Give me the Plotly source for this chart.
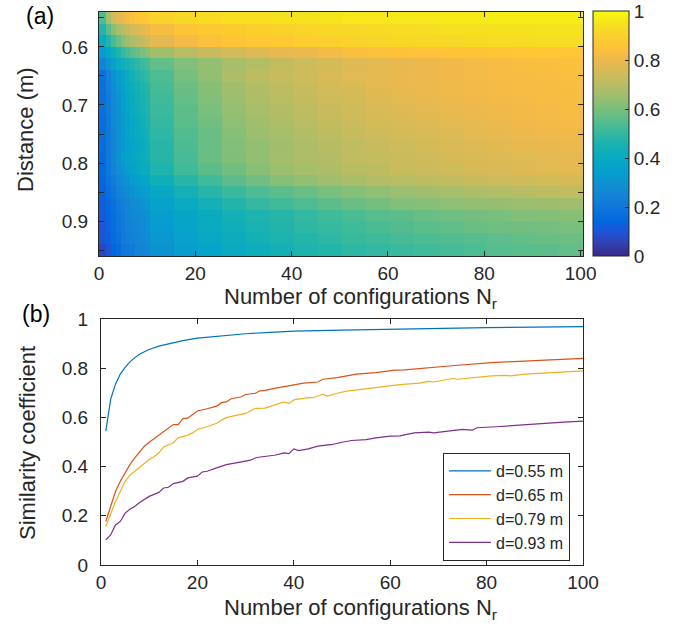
import plotly.graph_objects as go

# ---------------- DATA ----------------
# Panel (a): distance rows (m) and configuration-count columns
distances = [0.55, 0.57, 0.59, 0.61, 0.63, 0.65, 0.67, 0.69, 0.71, 0.73, 0.75,
             0.77, 0.79, 0.81, 0.83, 0.85, 0.87, 0.89, 0.91, 0.93, 0.95]
# columns: N = 1..10 individually, then groups of 5 (11-15, ..., 96-100)
col_lo = [1, 2, 3, 4, 5, 6, 7, 8, 9, 10, 11, 16, 21, 26, 31, 36, 41, 46, 51, 56,
          61, 66, 71, 76, 81, 86, 91, 96]
col_hi = [1, 2, 3, 4, 5, 6, 7, 8, 9, 10, 15, 20, 25, 30, 35, 40, 45, 50, 55, 60,
          65, 70, 75, 80, 85, 90, 95, 100]

r055 = [0.54, 0.67, 0.74, 0.78, 0.80, 0.83, 0.84, 0.86, 0.87, 0.88, 0.90, 0.92, 0.93, 0.94,
        0.94, 0.95, 0.95, 0.955, 0.96, 0.96, 0.96, 0.96, 0.965, 0.965, 0.97, 0.97, 0.97, 0.97]
r057 = [0.47, 0.56, 0.62, 0.67, 0.70, 0.73, 0.75, 0.77, 0.78, 0.80, 0.83, 0.86, 0.875, 0.885,
        0.895, 0.90, 0.91, 0.915, 0.92, 0.925, 0.93, 0.935, 0.94, 0.94, 0.945, 0.945, 0.95, 0.95]
r059 = [0.40, 0.47, 0.53, 0.58, 0.62, 0.65, 0.68, 0.70, 0.72, 0.74, 0.78, 0.82, 0.845, 0.86,
        0.87, 0.88, 0.89, 0.895, 0.90, 0.91, 0.915, 0.92, 0.92, 0.925, 0.93, 0.93, 0.935, 0.935]
r061 = [0.33, 0.38, 0.42, 0.46, 0.50, 0.53, 0.56, 0.58, 0.60, 0.62, 0.66, 0.70, 0.73, 0.75,
        0.77, 0.79, 0.80, 0.82, 0.84, 0.845, 0.85, 0.855, 0.86, 0.86, 0.865, 0.87, 0.87, 0.87]
r063 = [0.25, 0.31, 0.36, 0.40, 0.43, 0.45, 0.47, 0.49, 0.51, 0.53, 0.57, 0.61, 0.64, 0.67,
        0.69, 0.72, 0.74, 0.75, 0.77, 0.78, 0.79, 0.80, 0.81, 0.82, 0.83, 0.835, 0.84, 0.845]
r065 = [0.177, 0.238, 0.299, 0.340, 0.374, 0.408, 0.435, 0.460, 0.483, 0.499, 0.540, 0.597,
        0.640, 0.680, 0.708, 0.725, 0.741, 0.760, 0.776, 0.785, 0.793, 0.803, 0.810, 0.818,
        0.825, 0.829, 0.833, 0.838]
r067 = [0.18, 0.23, 0.28, 0.32, 0.36, 0.39, 0.42, 0.44, 0.46, 0.48, 0.53, 0.58, 0.62, 0.66,
        0.69, 0.71, 0.73, 0.75, 0.76, 0.78, 0.79, 0.80, 0.81, 0.815, 0.82, 0.825, 0.83, 0.835]
r069 = [0.17, 0.22, 0.27, 0.31, 0.35, 0.38, 0.41, 0.43, 0.45, 0.47, 0.52, 0.57, 0.61, 0.65,
        0.68, 0.70, 0.72, 0.74, 0.75, 0.77, 0.78, 0.79, 0.80, 0.81, 0.815, 0.82, 0.825, 0.83]
r071 = [0.17, 0.22, 0.26, 0.30, 0.34, 0.37, 0.40, 0.42, 0.44, 0.46, 0.51, 0.56, 0.60, 0.64,
        0.67, 0.69, 0.71, 0.73, 0.745, 0.76, 0.77, 0.78, 0.79, 0.80, 0.81, 0.815, 0.82, 0.825]
r073 = [0.16, 0.21, 0.26, 0.30, 0.33, 0.36, 0.39, 0.41, 0.43, 0.45, 0.50, 0.555, 0.59, 0.63,
        0.66, 0.68, 0.70, 0.72, 0.735, 0.75, 0.76, 0.77, 0.78, 0.79, 0.80, 0.81, 0.815, 0.82]
r075 = [0.16, 0.21, 0.25, 0.29, 0.33, 0.36, 0.38, 0.40, 0.42, 0.44, 0.49, 0.545, 0.58, 0.62,
        0.65, 0.67, 0.69, 0.71, 0.725, 0.74, 0.75, 0.76, 0.77, 0.78, 0.79, 0.80, 0.805, 0.81]
r077 = [0.16, 0.21, 0.25, 0.29, 0.32, 0.35, 0.37, 0.39, 0.41, 0.43, 0.48, 0.54, 0.575, 0.61,
        0.64, 0.66, 0.68, 0.70, 0.715, 0.73, 0.74, 0.75, 0.76, 0.77, 0.78, 0.79, 0.795, 0.80]
r079 = [0.156, 0.208, 0.258, 0.299, 0.340, 0.365, 0.381, 0.395, 0.410, 0.429, 0.480, 0.530,
        0.580, 0.608, 0.637, 0.663, 0.680, 0.690, 0.714, 0.721, 0.735, 0.745, 0.755, 0.764,
        0.771, 0.776, 0.781, 0.787]
r081 = [0.15, 0.20, 0.24, 0.28, 0.31, 0.34, 0.36, 0.38, 0.40, 0.41, 0.46, 0.52, 0.56, 0.59,
        0.62, 0.65, 0.67, 0.68, 0.70, 0.71, 0.725, 0.735, 0.745, 0.755, 0.76, 0.77, 0.775, 0.78]
r083 = [0.14, 0.185, 0.22, 0.26, 0.29, 0.31, 0.33, 0.35, 0.37, 0.38, 0.43, 0.48, 0.52, 0.56,
        0.59, 0.62, 0.64, 0.66, 0.675, 0.69, 0.70, 0.71, 0.72, 0.73, 0.74, 0.745, 0.75, 0.755]
r085 = [0.13, 0.17, 0.20, 0.23, 0.26, 0.28, 0.30, 0.32, 0.33, 0.35, 0.39, 0.44, 0.48, 0.51,
        0.54, 0.56, 0.58, 0.60, 0.62, 0.635, 0.65, 0.66, 0.67, 0.68, 0.69, 0.70, 0.71, 0.72]
r087 = [0.12, 0.15, 0.18, 0.21, 0.23, 0.25, 0.27, 0.29, 0.30, 0.32, 0.36, 0.40, 0.44, 0.47,
        0.50, 0.52, 0.54, 0.56, 0.58, 0.595, 0.61, 0.62, 0.63, 0.64, 0.645, 0.65, 0.655, 0.66]
r089 = [0.11, 0.14, 0.17, 0.20, 0.22, 0.24, 0.26, 0.27, 0.28, 0.30, 0.34, 0.38, 0.41, 0.44,
        0.46, 0.48, 0.50, 0.52, 0.535, 0.55, 0.56, 0.575, 0.585, 0.595, 0.60, 0.61, 0.615, 0.62]
r091 = [0.10, 0.13, 0.165, 0.19, 0.21, 0.23, 0.25, 0.26, 0.27, 0.29, 0.33, 0.37, 0.40, 0.43,
        0.45, 0.47, 0.49, 0.505, 0.52, 0.535, 0.545, 0.555, 0.565, 0.575, 0.585, 0.59, 0.595, 0.60]
r093 = [0.102, 0.122, 0.163, 0.177, 0.211, 0.227, 0.238, 0.254, 0.265, 0.279, 0.313, 0.354,
        0.390, 0.415, 0.439, 0.456, 0.472, 0.490, 0.506, 0.517, 0.530, 0.540, 0.545, 0.550,
        0.562, 0.569, 0.578, 0.583]
r095 = [0.07, 0.10, 0.14, 0.16, 0.19, 0.21, 0.22, 0.24, 0.25, 0.26, 0.30, 0.34, 0.37, 0.40,
        0.42, 0.44, 0.46, 0.475, 0.49, 0.50, 0.51, 0.52, 0.53, 0.54, 0.55, 0.555, 0.56, 0.57]

# Panel (b): similarity vs number of configurations for four distances
n_055 = [1, 2, 3, 4, 5, 6, 7, 8, 9, 10, 12, 14, 17, 20, 25, 30, 35, 40, 50, 60, 70, 80, 90, 100]
s_055 = [0.544, 0.673, 0.735, 0.776, 0.803, 0.826, 0.843, 0.857, 0.867, 0.876, 0.890, 0.900,
         0.912, 0.922, 0.932, 0.940, 0.946, 0.951, 0.955, 0.959, 0.962, 0.965, 0.967, 0.969]

n_065 = [1, 2, 3, 4, 5, 6, 7, 8, 9, 10, 11, 12, 13, 15, 16, 17, 18, 19, 20, 22, 24, 25, 26,
         27, 29, 30, 32, 33, 34, 36, 40, 42, 45, 46, 49, 53, 57, 61, 63, 66, 68, 74, 81, 86,
         88, 95, 100]
s_065 = [0.177, 0.238, 0.299, 0.340, 0.374, 0.408, 0.435, 0.460, 0.483, 0.499, 0.513, 0.527,
         0.540, 0.571, 0.571, 0.595, 0.597, 0.612, 0.626, 0.635, 0.646, 0.660, 0.663, 0.676,
         0.683, 0.693, 0.698, 0.708, 0.710, 0.718, 0.731, 0.739, 0.744, 0.755, 0.762, 0.776,
         0.782, 0.792, 0.793, 0.799, 0.803, 0.812, 0.823, 0.827, 0.829, 0.834, 0.840]

n_079 = [1, 2, 3, 4, 5, 6, 7, 8, 10, 11, 12, 13, 14, 15, 16, 18, 19, 20, 22, 24, 25, 26, 28,
         30, 31, 32, 34, 35, 36, 38, 39, 40, 43, 44, 46, 47, 49, 51, 54, 57, 60, 62, 66, 68,
         69, 71, 73, 74, 77, 81, 84, 85, 88, 92, 96, 100]
s_079 = [0.156, 0.208, 0.258, 0.299, 0.340, 0.365, 0.381, 0.395, 0.429, 0.440, 0.456, 0.480,
         0.490, 0.497, 0.517, 0.528, 0.537, 0.551, 0.562, 0.576, 0.589, 0.599, 0.608, 0.616,
         0.626, 0.637, 0.638, 0.644, 0.653, 0.663, 0.656, 0.671, 0.680, 0.680, 0.694, 0.687,
         0.698, 0.707, 0.714, 0.721, 0.728, 0.733, 0.739, 0.746, 0.744, 0.752, 0.758, 0.755,
         0.762, 0.769, 0.771, 0.769, 0.776, 0.780, 0.785, 0.789]

n_093 = [1, 2, 3, 4, 5, 6, 7, 8, 10, 11, 12, 13, 14, 15, 17, 18, 20, 21, 22, 24, 26, 28, 31,
         32, 33, 36, 38, 39, 40, 41, 43, 45, 48, 50, 52, 55, 57, 60, 62, 65, 68, 69, 72, 75,
         77, 78, 82, 84, 86, 89, 91, 92, 96, 100]
s_093 = [0.102, 0.122, 0.163, 0.177, 0.211, 0.227, 0.238, 0.254, 0.279, 0.286, 0.295, 0.313,
         0.316, 0.331, 0.340, 0.354, 0.361, 0.378, 0.381, 0.395, 0.408, 0.415, 0.426, 0.435,
         0.439, 0.446, 0.456, 0.453, 0.472, 0.465, 0.472, 0.483, 0.490, 0.499, 0.506, 0.510,
         0.517, 0.524, 0.525, 0.537, 0.540, 0.537, 0.544, 0.551, 0.548, 0.558, 0.562, 0.565,
         0.569, 0.571, 0.574, 0.578, 0.581, 0.585]

legend_names = ["d=0.55 m", "d=0.65 m", "d=0.79 m", "d=0.93 m"]
x_ticks = [0, 20, 40, 60, 80, 100]
cbar_ticks = [0, 0.2, 0.4, 0.6, 0.8, 1]

# ---------------- STYLE ----------------
W, H = 690, 636
TXT = "#262626"
FONT = "Liberation Sans, Arial, Helvetica, sans-serif"
line_colors = ["#0072BD", "#D95319", "#EDB120", "#7E2F8E"]

parula_pts = [
    (0.2081, 0.1663, 0.5292), (0.2081, 0.2386, 0.6771), (0.1253, 0.3242, 0.8303),
    (0.0060, 0.4086, 0.8828), (0.0498, 0.4586, 0.8641), (0.0779, 0.5040, 0.8384),
    (0.0641, 0.5570, 0.8240), (0.0265, 0.6137, 0.8135), (0.0228, 0.6535, 0.7768),
    (0.0590, 0.6838, 0.7254), (0.1453, 0.7098, 0.6646), (0.2586, 0.7317, 0.5954),
    (0.3953, 0.7459, 0.5244), (0.5300, 0.7491, 0.4661), (0.6473, 0.7456, 0.4188),
    (0.7525, 0.7384, 0.3768), (0.8507, 0.7299, 0.3360), (0.9450, 0.7261, 0.2886),
    (0.9990, 0.7653, 0.2164), (0.9789, 0.8271, 0.1633), (0.9589, 0.8949, 0.1132),
    (0.9763, 0.9831, 0.0538)]
idx = [0, 3, 6, 9, 12, 15, 18, 21, 24, 27, 30, 33, 36, 39, 42, 45, 48, 51, 54, 57, 60, 63]
parula = [[i / 63, "rgb(%d,%d,%d)" % (round(r * 255), round(g * 255), round(b * 255))]
          for i, (r, g, b) in zip(idx, parula_pts)]

rows = [r055, r057, r059, r061, r063, r065, r067, r069, r071, r073, r075,
        r077, r079, r081, r083, r085, r087, r089, r091, r093, r095]
for r in rows:
    assert len(r) == len(col_lo), len(r)

x_edges = [0] + [c - 0.5 for c in col_lo[1:]] + [col_hi[-1] + 0.5]
y_edges = [round(d - 0.01, 3) for d in distances] + [round(distances[-1] + 0.01, 3)]


def px_x(p):
    return p / W


def px_y(p):
    return 1 - p / H


# keep the end ticks a hair inside the bar so they are not culled
cbar_pos = [min(max(t, 0.0005), 0.9995) for t in cbar_ticks]

fig = go.Figure()
fig.add_trace(go.Heatmap(
    z=rows, x=x_edges, y=y_edges, zmin=0, zmax=1, colorscale=parula,
    xaxis="x", yaxis="y", hoverinfo="skip", showscale=True,
    colorbar=dict(x=px_x(593), xanchor="left", xref="paper", xpad=0, ypad=0,
                  y=px_y(256), yanchor="bottom", len=(256 - 11) / H, lenmode="fraction",
                  thickness=36, thicknessmode="pixels",
                  outlinewidth=1, outlinecolor=TXT,
                  ticks="inside", ticklen=4, tickcolor=TXT,
                  tickvals=cbar_pos, ticktext=[("%g" % t) for t in cbar_ticks],
                  tickfont=dict(family=FONT, size=19, color=TXT)),
))

for nx, sv, name, col in zip([n_055, n_065, n_079, n_093], [s_055, s_065, s_079, s_093],
                             legend_names, line_colors):
    fig.add_trace(go.Scatter(x=nx, y=sv, mode="lines", name=name, xaxis="x2", yaxis="y2",
                             line=dict(color=col, width=1.2), hoverinfo="skip"))

axis_common = dict(showline=True, linecolor=TXT, linewidth=1, mirror="ticks",
                   ticks="inside", ticklen=5, tickcolor=TXT, showgrid=False, zeroline=False,
                   automargin=False,
                   tickfont=dict(family=FONT, size=19, color=TXT))

y_ticks_a = [0.55, 0.6, 0.65, 0.7, 0.75, 0.8, 0.85, 0.9, 0.95]
y_text_a = ["", "0.6", "", "0.7", "", "0.8", "", "0.9", ""]

fig.update_layout(
    width=W, height=H, margin=dict(l=0, r=0, t=0, b=0, autoexpand=False),
    paper_bgcolor="white", plot_bgcolor="white",
    showlegend=True, hovermode=False,
    legend=dict(x=px_x(443), y=px_y(453), xanchor="left", yanchor="top",
                bgcolor="white", bordercolor=TXT, borderwidth=1,
                font=dict(family=FONT, size=16, color=TXT), tracegroupgap=0,
                itemwidth=42),
    xaxis=dict(domain=[px_x(99), px_x(583)], anchor="y", range=[0, 100.5],
               tickvals=x_ticks, ticklabelstandoff=0, **axis_common),
    yaxis=dict(domain=[px_y(256), px_y(12)], anchor="x", range=[0.96, 0.54],
               tickvals=y_ticks_a, ticktext=y_text_a, ticklabelstandoff=6, **axis_common),
    xaxis2=dict(domain=[px_x(101), px_x(583)], anchor="y2", range=[0, 100],
                tickvals=x_ticks, ticklabelstandoff=0, **axis_common),
    yaxis2=dict(domain=[px_y(565), px_y(319)], anchor="x2", range=[0, 1],
                tickvals=[0, 0.2, 0.4, 0.6, 0.8, 1], ticklabelstandoff=8, **axis_common),
    annotations=[
        dict(text="(a)", x=px_x(24), y=px_y(1), xref="paper", yref="paper",
             xanchor="left", yanchor="top", showarrow=False,
             font=dict(family=FONT, size=23, color="black")),
        dict(text="(b)", x=px_x(20), y=px_y(299), xref="paper", yref="paper",
             xanchor="left", yanchor="top", showarrow=False,
             font=dict(family=FONT, size=23, color="black")),
        dict(text="Number of configurations N<sub>r</sub>", x=px_x(360), y=px_y(298),
             xref="paper", yref="paper", xanchor="center", yanchor="middle",
             showarrow=False, font=dict(family=FONT, size=22, color=TXT)),
        dict(text="Number of configurations N<sub>r</sub>", x=px_x(360), y=px_y(609),
             xref="paper", yref="paper", xanchor="center", yanchor="middle",
             showarrow=False, font=dict(family=FONT, size=22, color=TXT)),
        dict(text="Distance (m)", x=px_x(25), y=px_y(130), xref="paper", yref="paper",
             xanchor="center", yanchor="middle", textangle=-90, showarrow=False,
             font=dict(family=FONT, size=22, color=TXT)),
        dict(text="Similarity coefficient", x=px_x(27), y=px_y(443), xref="paper",
             yref="paper", xanchor="center", yanchor="middle", textangle=-90,
             showarrow=False, font=dict(family=FONT, size=22, color=TXT)),
    ],
)

fig.write_html("out.html", config={"displayModeBar": False},
               post_script="document.body.style.margin='0px';")
